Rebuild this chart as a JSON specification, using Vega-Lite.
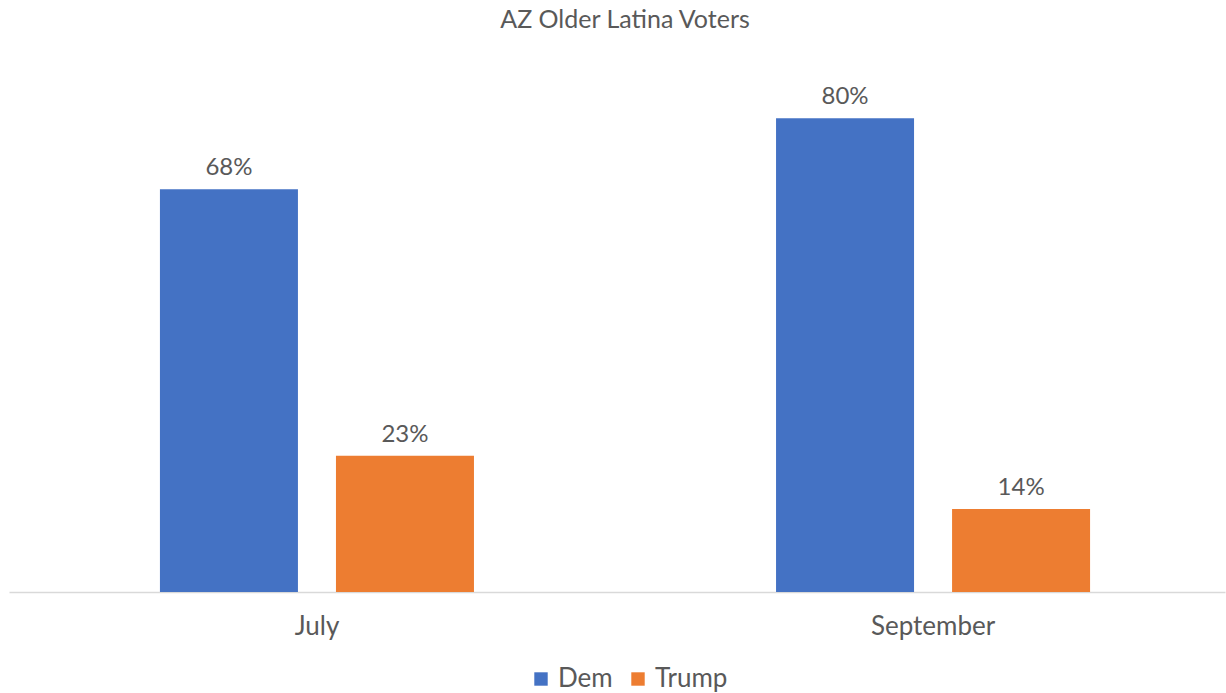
{
  "$schema": "https://vega.github.io/schema/vega-lite/v6.json",
  "width": 1216,
  "height": 533,
  "autosize": {"type": "none"},
  "padding": {"left": 9, "top": 59, "right": 1, "bottom": 101},
  "background": "white",
  "title": {
    "text": "AZ Older Latina Voters",
    "font": "Lato",
    "fontSize": 25,
    "fontWeight": "normal",
    "color": "#595959",
    "anchor": "middle",
    "offset": 26,
    "dx": 8
  },
  "data": {
    "values": [
      {"month": "July", "series": "Dem", "value": 0.68},
      {"month": "July", "series": "Trump", "value": 0.23},
      {"month": "September", "series": "Dem", "value": 0.80},
      {"month": "September", "series": "Trump", "value": 0.14}
    ]
  },
  "encoding": {
    "x": {
      "field": "month",
      "type": "nominal",
      "sort": ["July", "September"],
      "scale": {"paddingInner": 0.4903, "paddingOuter": 0.232, "align": 0.528},
      "axis": {
        "title": null,
        "labelAngle": 0,
        "ticks": false,
        "domainColor": "#D9D9D9",
        "domainWidth": 1.5,
        "labelFont": "Lato",
        "labelFontSize": 26,
        "labelColor": "#595959",
        "labelPadding": 21
      }
    },
    "xOffset": {
      "field": "series",
      "sort": ["Dem", "Trump"],
      "scale": {"paddingInner": 0.216}
    },
    "y": {
      "field": "value",
      "type": "quantitative",
      "scale": {"domain": [0, 0.9]},
      "axis": null
    }
  },
  "layer": [
    {
      "mark": {"type": "bar"},
      "encoding": {
        "color": {
          "field": "series",
          "type": "nominal",
          "sort": ["Dem", "Trump"],
          "scale": {"domain": ["Dem", "Trump"], "range": ["#4472C4", "#ED7D31"]},
          "legend": {
            "title": null,
            "orient": "none",
            "direction": "horizontal",
            "legendX": 519,
            "legendY": 607,
            "symbolType": "square",
            "symbolSize": 180,
            "symbolStrokeWidth": 0,
            "labelFont": "Lato",
            "labelFontSize": 26,
            "labelColor": "#595959",
            "columnPadding": 12,
            "labelOffset": 4
          }
        }
      }
    },
    {
      "mark": {
        "type": "text",
        "baseline": "alphabetic",
        "dy": -14,
        "font": "Lato",
        "fontSize": 24,
        "color": "#595959"
      },
      "encoding": {
        "text": {"field": "value", "type": "quantitative", "format": ".0%"}
      }
    }
  ],
  "config": {"view": {"stroke": null}}
}
